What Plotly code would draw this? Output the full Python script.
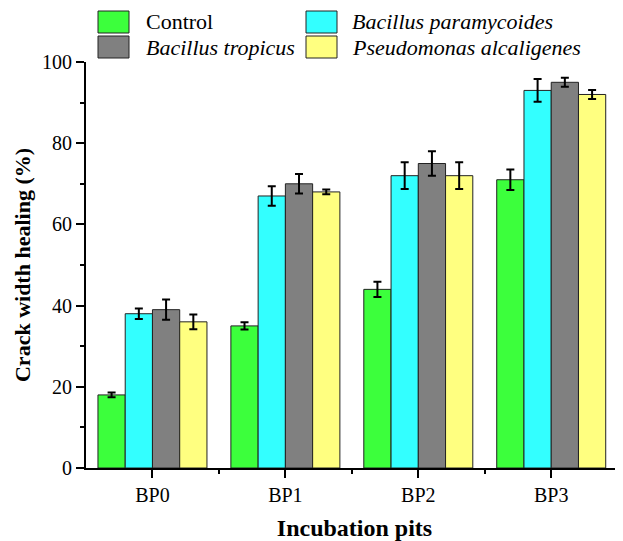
import plotly.graph_objects as go

categories = ["BP0", "BP1", "BP2", "BP3"]
series_names = ["Control", "Bacillus paramycoides", "Bacillus tropicus", "Pseudomonas alcaligenes"]
control = [18, 35, 44, 71]
control_err = [0.6, 0.9, 1.9, 2.5]
paramycoides = [38, 67, 72, 93]
paramycoides_err = [1.3, 2.4, 3.3, 2.8]
tropicus = [39, 70, 75, 95]
tropicus_err = [2.5, 2.4, 3.0, 1.1]
alcaligenes = [36, 68, 72, 92]
alcaligenes_err = [1.8, 0.6, 3.3, 1.1]
y_ticks = [0, 20, 40, 60, 80, 100]

colors = ["#3CFF3C", "#33FFFF", "#808080", "#FFFF80"]
values = [control, paramycoides, tropicus, alcaligenes]
errors = [control_err, paramycoides_err, tropicus_err, alcaligenes_err]
italic = [False, True, True, True]

FONT = "Liberation Serif, Times New Roman, serif"
xpos = list(range(len(categories)))

fig = go.Figure()
for name, vals, errs, col in zip(series_names, values, errors, colors):
    fig.add_trace(go.Bar(
        x=xpos, y=vals, name=name,
        marker=dict(color=col, line=dict(color="#222222", width=1)),
        error_y=dict(type="data", array=errs, visible=True, color="black", thickness=2, width=4),
        showlegend=False,
    ))

# custom legend (2 columns x 2 rows); positions given in reference-page pixels
L, W = 86, 537
B, H = 468, 406
def px(x):
    return (x - L) / W
def py(y):
    return (B - y) / H

order = [(0, 0, 0), (1, 1, 0), (2, 0, 1), (3, 1, 1)]  # (series idx, col, row)
col_sw = [98, 306]
col_tx = [144, 350]
row_top = [11, 36]
shapes = []
annotations = []
for idx, c, r in order:
    shapes.append(dict(type="rect", xref="paper", yref="paper",
                       x0=px(col_sw[c]), x1=px(col_sw[c] + 31),
                       y0=py(row_top[r] + 22), y1=py(row_top[r]),
                       fillcolor=colors[idx], line=dict(color="#222222", width=1)))
    txt = f"<i>{series_names[idx]}</i>" if italic[idx] else series_names[idx]
    annotations.append(dict(xref="paper", yref="paper", x=px(col_tx[c]), y=py(row_top[r] + 11),
                            xanchor="left", yanchor="middle", text=txt, showarrow=False,
                            font=dict(family=FONT, size=22, color="black")))

fig.update_layout(
    barmode="group", bargap=0.18, bargroupgap=0,
    width=615, height=533,
    margin=dict(l=78, r=0, t=54, b=73),
    plot_bgcolor="white", paper_bgcolor="white",
    font=dict(family=FONT, size=20, color="black"),
    shapes=shapes, annotations=annotations,
    xaxis=dict(
        range=[-0.5, 3.54], tickmode="array", tickvals=xpos, ticktext=categories,
        ticks="outside", ticklen=8, tickwidth=1.5, tickcolor="black",
        showline=True, linecolor="black", linewidth=2, showgrid=False, zeroline=False,
        minor=dict(tickmode="array", tickvals=[0.5, 1.5, 2.5], ticks="outside", ticklen=4, tickwidth=1.5, tickcolor="black"),
        title=dict(text="<b>Incubation pits</b>", font=dict(family=FONT, size=24), standoff=17),
        tickfont=dict(family=FONT, size=20),
    ),
    yaxis=dict(
        range=[0, 100], tickmode="array", tickvals=y_ticks,
        ticks="outside", ticklen=8, tickwidth=1.5, tickcolor="black",
        showline=True, linecolor="black", linewidth=2, showgrid=False, zeroline=False,
        minor=dict(tickmode="array", tickvals=[10, 30, 50, 70, 90], ticks="outside", ticklen=4, tickwidth=1.5, tickcolor="black"),
        title=dict(text="<b>Crack width healing (%)</b>", font=dict(family=FONT, size=22), standoff=5),
        tickfont=dict(family=FONT, size=20),
    ),
)

fig.write_html("out.html")
